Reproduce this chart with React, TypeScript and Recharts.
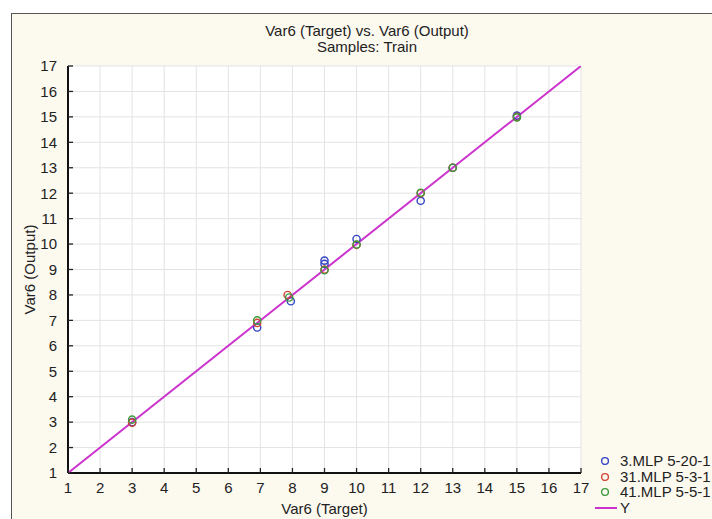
import React from 'react';
import { ScatterChart, Scatter, XAxis, YAxis, CartesianGrid } from 'recharts';

const axisTicks = [1, 2, 3, 4, 5, 6, 7, 8, 9, 10, 11, 12, 13, 14, 15, 16, 17];
const axisDomain = [1, 17];
const diagonalValues = [1, 17];

const blueTarget = [3, 6.9, 7.95, 9, 9, 10, 12, 13, 15];
const blueOutput = [3.0, 6.72, 7.75, 9.35, 9.22, 10.2, 11.7, 13.0, 15.05];
const redTarget = [3, 6.9, 7.85, 9, 10, 12, 13, 15];
const redOutput = [2.98, 6.9, 8.0, 9.0, 9.97, 12.0, 13.0, 15.0];
const greenTarget = [3, 6.9, 7.9, 9, 10, 12, 13, 15];
const greenOutput = [3.1, 7.0, 7.9, 8.97, 9.98, 12.02, 13.0, 14.98];

const seriesNames = ['3.MLP 5-20-1', '31.MLP 5-3-1', '41.MLP 5-5-1'];
const lineName = 'Y';
const titleText = 'Var6 (Target) vs. Var6 (Output)';
const subtitleText = 'Samples: Train';
const xTitle = 'Var6 (Target)';
const yTitle = 'Var6 (Output)';

const COLORS = ['#3344c4', '#d04535', '#3d9a3d'];
const LINE_COLOR = '#cc33cc';
const FONT = '"Liberation Sans", Arial, sans-serif';
const FS = 15;
const TEXT_COLOR = '#222';

const toPoints = (xs: number[], ys: number[]) => xs.map((x, i) => ({ x, y: ys[i] }));
const blueData = toPoints(blueTarget, blueOutput);
const redData = toPoints(redTarget, redOutput);
const greenData = toPoints(greenTarget, greenOutput);
const diagData = toPoints(diagonalValues, diagonalValues);

const TICK_LEN = 5;
const X_MARGIN = 9;
const Y_MARGIN = 11;

const BottomTick = (props: any) => {
  const { x, y, payload } = props;
  const axisY = y - X_MARGIN;
  return (
    <g>
      <line x1={x} x2={x} y1={axisY} y2={axisY - TICK_LEN} stroke="#222" strokeWidth={1.3} />
      <text x={x} y={y} dy="0.71em" textAnchor="middle" fill={TEXT_COLOR} fontSize={FS} fontFamily={FONT}>
        {payload.value}
      </text>
    </g>
  );
};

const LeftTick = (props: any) => {
  const { x, y, payload } = props;
  const axisX = x + Y_MARGIN;
  return (
    <g>
      <line x1={axisX} x2={axisX + TICK_LEN} y1={y} y2={y} stroke="#222" strokeWidth={1.3} />
      <text x={x} y={y} dy="0.355em" textAnchor="end" fill={TEXT_COLOR} fontSize={FS} fontFamily={FONT}>
        {payload.value}
      </text>
    </g>
  );
};

const TopTick = (props: any) => {
  const { x, y } = props;
  return <line x1={x} x2={x} y1={y} y2={y + TICK_LEN} stroke="#333" strokeWidth={1.2} />;
};

const RightTick = (props: any) => {
  const { x, y } = props;
  return <line x1={x} x2={x - TICK_LEN} y1={y} y2={y} stroke="#333" strokeWidth={1.2} />;
};

const makeCircle = (color: string) => (props: any) => {
  const { cx, cy } = props;
  if (cx == null || cy == null) return <g />;
  return <circle cx={cx} cy={cy} r={3.6} fill="none" stroke={color} strokeWidth={1.4} />;
};

const XTitleLabel = (props: any) => {
  const vb = props.viewBox || {};
  return (
    <text x={vb.x + vb.width / 2} y={vb.y + 36} dy="0.355em" textAnchor="middle" fill={TEXT_COLOR} fontSize={FS} fontFamily={FONT}>
      {xTitle}
    </text>
  );
};

const YTitleLabel = (props: any) => {
  const vb = props.viewBox || {};
  const cx = vb.x + 20;
  const cy = vb.y + vb.height / 2;
  return (
    <text x={cx} y={cy} dy="0.355em" textAnchor="middle" fill={TEXT_COLOR} fontSize={FS} fontFamily={FONT} transform={`rotate(-90, ${cx}, ${cy})`}>
      {yTitle}
    </text>
  );
};

export default function App() {
  return (
    <div style={{ position: 'absolute', left: 0, top: 0, width: 712, height: 519, background: '#fff', overflow: 'hidden', fontFamily: FONT }}>
      <div style={{ position: 'absolute', left: 11, top: 13, right: 0, bottom: 0, background: '#fcf9ef', borderLeft: '1px solid #555', borderTop: '1px solid #555' }} />
      <div style={{ position: 'absolute', left: 167, top: 23, width: 400, textAlign: 'center', fontSize: FS, lineHeight: '16px', color: TEXT_COLOR }}>
        <div>{titleText}</div>
        <div>{subtitleText}</div>
      </div>
      <div style={{ position: 'absolute', left: 0, top: 0 }}>
        <ScatterChart width={712} height={519} margin={{ top: 66, left: 10, right: 131, bottom: 0 }}>
          <CartesianGrid fill="#ffffff" stroke="#e3e3e3" strokeWidth={1} />
          <XAxis
            dataKey="x"
            type="number"
            domain={axisDomain}
            ticks={axisTicks}
            interval={0}
            height={46}
            tickSize={0}
            tickMargin={X_MARGIN}
            tick={BottomTick}
            axisLine={{ stroke: '#111', strokeWidth: 2 }}
            allowDataOverflow
            label={<XTitleLabel />}
          />
          <XAxis
            xAxisId="top"
            orientation="top"
            type="number"
            domain={axisDomain}
            ticks={axisTicks}
            interval={0}
            height={0}
            tickSize={0}
            tickMargin={0}
            tick={TopTick}
            axisLine={{ stroke: '#333', strokeWidth: 1.5 }}
          />
          <YAxis
            dataKey="y"
            type="number"
            domain={axisDomain}
            ticks={axisTicks}
            interval={0}
            width={58}
            tickSize={0}
            tickMargin={Y_MARGIN}
            tick={LeftTick}
            axisLine={{ stroke: '#111', strokeWidth: 2 }}
            allowDataOverflow
            label={<YTitleLabel />}
          />
          <YAxis
            yAxisId="right"
            orientation="right"
            type="number"
            domain={axisDomain}
            ticks={axisTicks}
            interval={0}
            width={0}
            tickSize={0}
            tickMargin={0}
            tick={RightTick}
            axisLine={{ stroke: '#333', strokeWidth: 1.5 }}
          />
          <Scatter name={lineName} data={diagData} line={{ stroke: LINE_COLOR, strokeWidth: 2 }} shape={() => <g />} isAnimationActive={false} />
          <Scatter name={seriesNames[0]} data={blueData} shape={makeCircle(COLORS[0])} isAnimationActive={false} />
          <Scatter name={seriesNames[1]} data={redData} shape={makeCircle(COLORS[1])} isAnimationActive={false} />
          <Scatter name={seriesNames[2]} data={greenData} shape={makeCircle(COLORS[2])} isAnimationActive={false} />
        </ScatterChart>
      </div>
      <div style={{ position: 'absolute', left: 598, top: 453, fontSize: FS, lineHeight: '15.7px', color: TEXT_COLOR, whiteSpace: 'nowrap' }}>
        {seriesNames.map((n, i) => (
          <div key={n} style={{ display: 'flex', alignItems: 'center', height: 15.7 }}>
            <svg width={22} height={12} style={{ flex: 'none' }}>
              <circle cx={7} cy={6} r={3.4} fill="none" stroke={COLORS[i]} strokeWidth={1.4} />
            </svg>
            <span>{n}</span>
          </div>
        ))}
        <div style={{ display: 'flex', alignItems: 'center', height: 15.7 }}>
          <svg width={22} height={12} style={{ flex: 'none', marginLeft: -3 }}>
            <line x1={0} x2={22} y1={6} y2={6} stroke={LINE_COLOR} strokeWidth={2} />
          </svg>
          <span style={{ marginLeft: 3 }}>{lineName}</span>
        </div>
      </div>
    </div>
  );
}
